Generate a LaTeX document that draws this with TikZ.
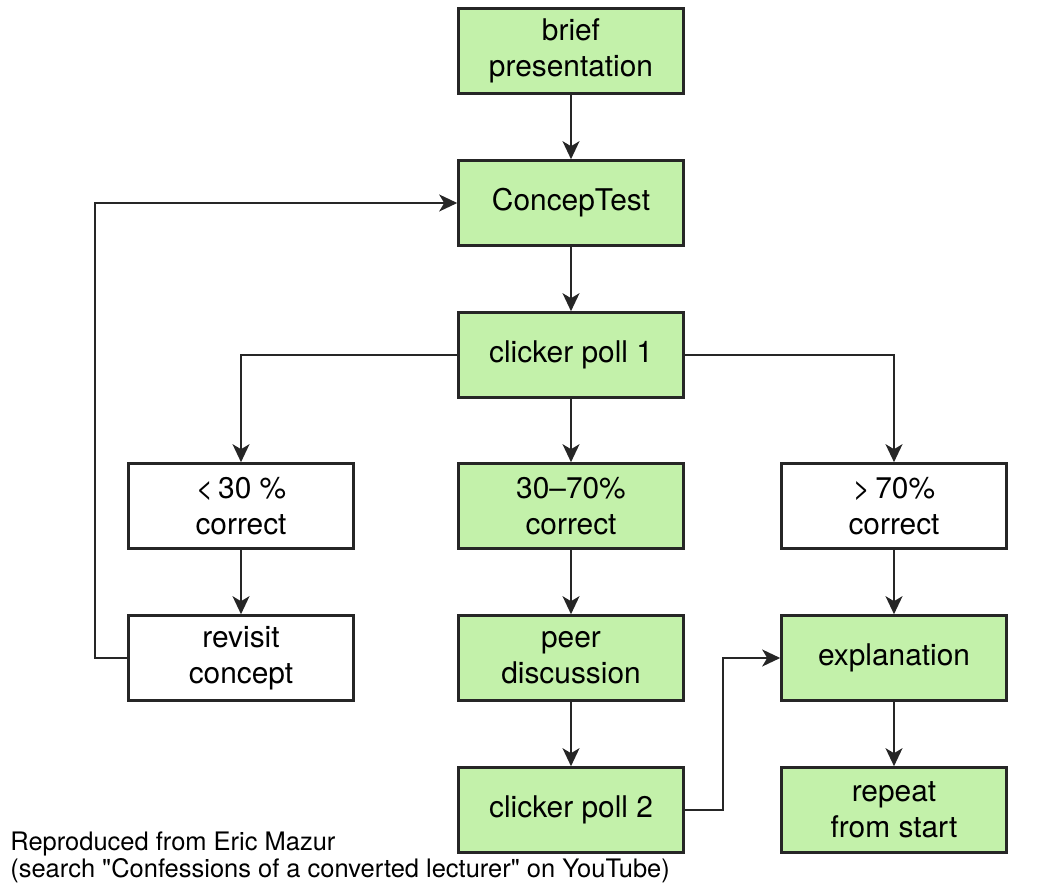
\documentclass[tikz,border=0pt]{standalone}
\usepackage{fontspec}
\setmainfont{TeX Gyre Heros}
\usetikzlibrary{arrows.meta}
\definecolor{boxgreen}{RGB}{195,241,170}
\begin{document}
\begin{tikzpicture}[x=0.02cm,y=-0.02cm,
    stage/.style={draw=black!85,line width=1.5pt,minimum width=4.5cm,minimum height=1.7cm,inner sep=2pt,align=center,font=\fontsize{17pt}{20.5pt}\selectfont},
    green/.style={stage,fill=boxgreen},
    white/.style={stage,fill=white},
    flow/.style={line width=1.1pt,draw=black!85,-{Stealth[length=0.36cm,width=0.34cm,inset=0.1cm]}}]

    \useasboundingbox (0,0) rectangle (1051,884);

    % --------------------------------------------------------- %
    % ------------- main column
    % --------------------------------------------------------- %
    \node[green] (brief) at (571,51) {brief\\presentation};
    \node[green] (concep) at (571,203) {ConcepTest};
    \draw [flow] (brief) -- (concep);
    \node[green] (poll1) at (571,355) {clicker poll 1};
    \draw [flow] (concep) -- (poll1);

    % --------------------------------------------------------- %
    % ------------ three outcomes
    % --------------------------------------------------------- %
    % --- low node
    \node[white] (low) at (241,506) {<\,30 \%\\correct};
    \draw [flow] (poll1.west) -| (low.north);
    % --- mid node
    \node[green] (mid) at (571,506) {30--70\%\\correct};
    \draw [flow] (poll1) -- (mid);
    % --- high node
    \node[white] (high) at (894,506) {>\,70\%\\correct};
    \draw [flow] (poll1.east) -| (high.north);

    % --------------------------------------------------------- %
    % ------------ follow-up
    % --------------------------------------------------------- %
    % --- revisit node
    \node[white] (revisit) at (241,658) {revisit\\concept};
    \draw [flow] (low) -- (revisit);
    \draw [flow] (revisit.west) -- ++(-32,0) |- (concep.west);
    % --- peer node
    \node[green] (peer) at (571,658) {peer\\discussion};
    \draw [flow] (mid) -- (peer);
    % --- poll2 node
    \node[green] (poll2) at (571,810) {clicker poll 2};
    \draw [flow] (peer) -- (poll2);
    % --- expl node
    \node[green] (expl) at (894,658) {explanation};
    \draw [flow] (high) -- (expl);
    \draw [flow] (poll2.east) -- ++(38,0) |- (expl.west);
    % --- repeat node
    \node[green] (repeat) at (894,810) {repeat\\from start};
    \draw [flow] (expl) -- (repeat);

    % --- source note
    \node[anchor=west,align=left,inner sep=0pt,font=\fontsize{14.5pt}{15.5pt}\selectfont] (note) at (10,857) {Reproduced from Eric Mazur\\(search \textquotedbl Confessions of a converted lecturer\textquotedbl{} on YouTube)};

  \end{tikzpicture}
\end{document}
